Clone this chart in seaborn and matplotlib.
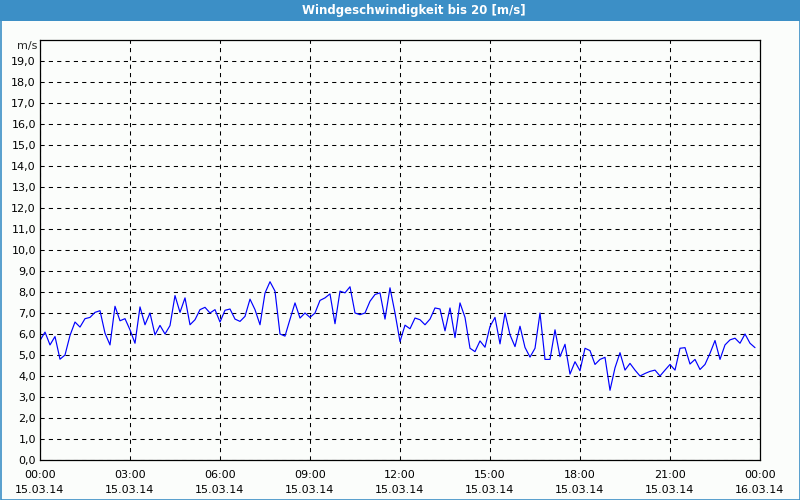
import numpy as np
import pandas as pd
import matplotlib
matplotlib.use("Agg")
import matplotlib.pyplot as plt
import seaborn as sns
from matplotlib.patches import Rectangle

# ---- data ----
title = "Windgeschwindigkeit bis 20 [m/s]"
unit = "m/s"
start_time = "2014-03-15 00:00"
interval = "10min"
wind_speed = [
    5.69, 6.09, 5.48, 5.88, 4.80, 5.00, 5.93, 6.57, 6.33, 6.73,
    6.79, 7.03, 7.11, 6.04, 5.48, 7.32, 6.63, 6.73, 6.20, 5.56,
    7.29, 6.44, 7.00, 5.96, 6.41, 6.00, 6.40, 7.83, 7.03, 7.72,
    6.44, 6.68, 7.16, 7.27, 7.00, 7.16, 6.57, 7.13, 7.19, 6.71,
    6.60, 6.84, 7.66, 7.16, 6.44, 7.95, 8.49, 8.04, 6.00, 5.90,
    6.70, 7.48, 6.76, 7.00, 6.79, 7.00, 7.60, 7.72, 7.91, 6.49,
    8.04, 7.96, 8.25, 7.00, 6.92, 7.00, 7.56, 7.88, 7.96, 6.71,
    8.20, 7.00, 5.64, 6.42, 6.25, 6.76, 6.68, 6.44, 6.71, 7.24,
    7.19, 6.15, 7.24, 5.83, 7.48, 6.79, 5.32, 5.16, 5.67, 5.37,
    6.36, 6.79, 5.53, 7.00, 5.96, 5.40, 6.37, 5.36, 4.90, 5.32,
    7.00, 4.79, 4.79, 6.20, 4.92, 5.51, 4.09, 4.68, 4.25, 5.32,
    5.21, 4.55, 4.79, 4.89, 3.32, 4.39, 5.11, 4.28, 4.60, 4.28,
    4.00, 4.12, 4.22, 4.28, 4.00, 4.28, 4.55, 4.28, 5.32, 5.35,
    4.57, 4.79, 4.31, 4.55, 5.08, 5.69, 4.79, 5.48, 5.72, 5.80,
    5.56, 6.00, 5.56, 5.35,
]
x_tick_hours = [0, 3, 6, 9, 12, 15, 18, 21, 24]
x_tick_labels = ["00:00\n15.03.14", "03:00\n15.03.14", "06:00\n15.03.14",
                 "09:00\n15.03.14", "12:00\n15.03.14", "15:00\n15.03.14",
                 "18:00\n15.03.14", "21:00\n15.03.14", "00:00\n16.03.14"]
y_ticks = list(range(0, 20))
y_tick_labels = [f"{v},0" for v in y_ticks]

times = pd.date_range(start_time, periods=len(wind_speed), freq=interval)
hours = (times - times[0]).total_seconds() / 3600.0
df = pd.DataFrame({"hours": hours, "speed": wind_speed})

# ---- style ----
sns.set_style("white")
plt.rcParams["font.family"] = ["DejaVu Sans"]
W, H = 800, 500
bg = "#fbfdfb"
blue_bar = "#3c8fc6"

fig = plt.figure(figsize=(W / 100, H / 100), dpi=100, facecolor=bg)
ax = fig.add_axes([40 / W, 40 / H, 720 / W, 420 / H], facecolor=bg)

sns.lineplot(data=df, x="hours", y="speed", ax=ax, color="#0000ff", linewidth=0.85)

ax.set_xlim(0, 24)
ax.set_ylim(0, 20)
ax.set_xticks(x_tick_hours)
ax.set_xticklabels(x_tick_labels, fontsize=8, linespacing=1.6)
ax.set_xticks(np.arange(0, 25, 1), minor=True)
ax.set_yticks(y_ticks)
ax.set_yticklabels(y_tick_labels, fontsize=8)
ax.set_xlabel("")
ax.set_ylabel("")
ax.tick_params(axis="x", which="both", direction="out", length=3, width=0.8,
               color="black", pad=4, labelcolor="black")
ax.tick_params(axis="y", which="both", length=0, pad=3, labelcolor="black")

ax.grid(True, which="major", color="black", linestyle=(0, (4, 4)), linewidth=0.75)
ax.set_axisbelow(True)
for s in ax.spines.values():
    s.set_visible(True)
    s.set_color("black")
    s.set_linewidth(0.9)

fig.text(37 / W, 1 - 46 / H, unit, ha="right", va="center", fontsize=8)

# title bar and frame
fig.patches.append(Rectangle((0, 1 - 21 / H), 1, 21 / H, transform=fig.transFigure,
                             facecolor=blue_bar, edgecolor="none", zorder=0))
fig.text(414 / W, 1 - 10.5 / H, title, ha="center", va="center",
         color="white", fontsize=8.5, fontweight="bold")
fig.patches.append(Rectangle((0.5 / W, 0.5 / H), 1 - 1 / W, 1 - 1 / H,
                             transform=fig.transFigure, facecolor="none",
                             edgecolor=blue_bar, linewidth=1.2, zorder=5))

fig.savefig("out.png", dpi=100, facecolor=bg)
